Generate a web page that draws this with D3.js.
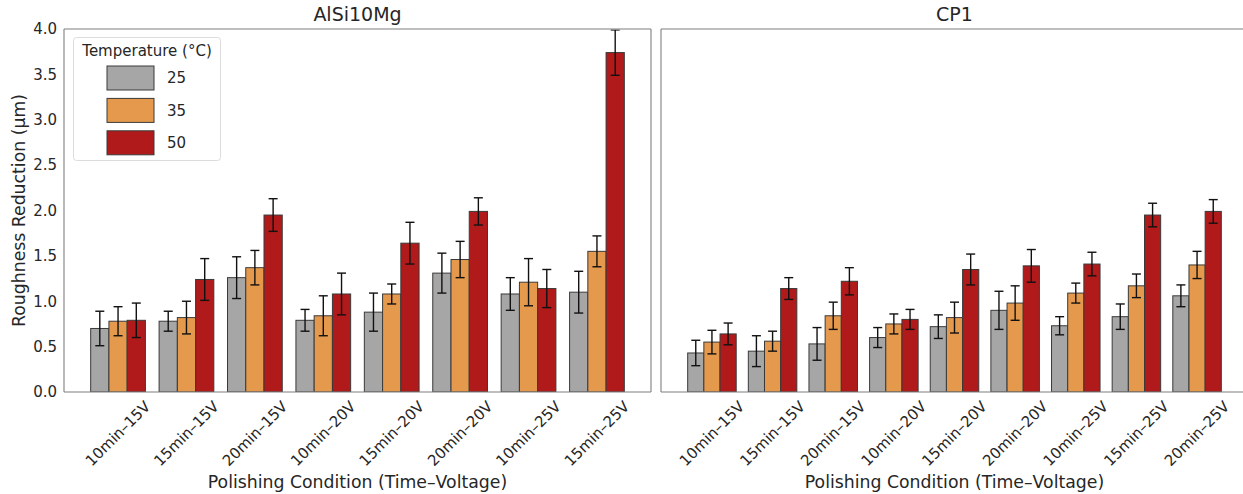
<!DOCTYPE html>
<html>
<head>
<meta charset="utf-8">
<script src="https://cdn.jsdelivr.net/npm/d3@7"></script>
<style>
  body { margin: 0; background: #fff; }
  svg { font-family: "DejaVu Sans", sans-serif; }
</style>
</head>
<body>
<svg id="chart" width="1243" height="494"></svg>
<script>
"use strict";

/************
*** DATA ***
************/

var temps = ["25", "35", "50"];
var tempColors = ["#a6a6a6", "#e5994c", "#b01a1b"];

var condAl = ["10min–15V", "15min–15V", "20min–15V", "10min–20V", "15min–20V", "20min–20V", "10min–25V", "15min–25V"];
var condCp = ["10min–15V", "15min–15V", "20min–15V", "10min–20V", "15min–20V", "20min–20V", "10min–25V", "15min–25V", "20min–25V"];

// AlSi10Mg means / std, one row per temperature
var al25 = [0.70, 0.78, 1.26, 0.79, 0.88, 1.31, 1.08, 1.10];
var al35 = [0.78, 0.82, 1.37, 0.84, 1.08, 1.46, 1.21, 1.55];
var al50 = [0.79, 1.24, 1.95, 1.08, 1.64, 1.99, 1.14, 3.74];
var alErr25 = [0.19, 0.11, 0.23, 0.12, 0.21, 0.22, 0.18, 0.23];
var alErr35 = [0.16, 0.18, 0.19, 0.22, 0.11, 0.20, 0.26, 0.17];
var alErr50 = [0.19, 0.23, 0.18, 0.23, 0.23, 0.15, 0.21, 0.25];

// CP1 means / std
var cp25 = [0.43, 0.45, 0.53, 0.60, 0.72, 0.90, 0.73, 0.83, 1.06];
var cp35 = [0.55, 0.56, 0.84, 0.75, 0.82, 0.98, 1.09, 1.17, 1.40];
var cp50 = [0.64, 1.14, 1.22, 0.80, 1.35, 1.39, 1.41, 1.95, 1.99];
var cpErr25 = [0.14, 0.17, 0.18, 0.11, 0.13, 0.21, 0.10, 0.14, 0.12];
var cpErr35 = [0.13, 0.11, 0.15, 0.11, 0.17, 0.19, 0.11, 0.13, 0.15];
var cpErr50 = [0.12, 0.12, 0.15, 0.11, 0.17, 0.18, 0.13, 0.13, 0.13];

var yTicks = [0.0, 0.5, 1.0, 1.5, 2.0, 2.5, 3.0, 3.5, 4.0];


/**************
*** LAYOUT ***
**************/

var svg = d3.select("#chart");
var textColor = "#262626";
var plotTop = 29, plotBottom = 392;
var panelW = 587;

var y = d3.scaleLinear().domain([0, 4]).range([plotBottom, plotTop]);

var panels = [
  { title: "AlSi10Mg", left: 64, cats: condAl, vals: [al25, al35, al50], errs: [alErr25, alErr35, alErr50] },
  { title: "CP1", left: 661, cats: condCp, vals: [cp25, cp35, cp50], errs: [cpErr25, cpErr35, cpErr50] }
];


/************************
*** DRAW EACH PANEL ***
************************/

var drawPanel = function(p, idx) {

    var n = p.cats.length;
    var barW = 0.8 / 3;
    // matplotlib-like 5% margins around the data span (-0.4 .. n-0.6)
    var span = (n - 1) + 0.8;
    var pad = span * 0.05;
    var x = d3.scaleLinear()
      .domain([-0.4 - pad, n - 0.6 + pad])
      .range([p.left, p.left + panelW]);

    var g = svg.append("g").attr("class", "panel");

    // clip for bars, right panel runs off the image anyway
    var clipId = "clip" + idx;
    g.append("clipPath").attr("id", clipId)
      .append("rect")
      .attr("x", p.left).attr("y", plotTop - 2)
      .attr("width", panelW).attr("height", plotBottom - plotTop + 2);

    var marks = g.append("g").attr("clip-path", "url(#" + clipId + ")");

    // bars
    temps.forEach(function(t, k) {
        var rows = p.vals[k].map(function(v, i) {
            return { i: i, v: v, e: p.errs[k][i] };
        });

        marks.selectAll("rect.bar" + k)
          .data(rows)
          .enter()
          .append("rect")
          .attr("class", "bar" + k)
          .attr("x", function(d) { return x(d.i + (k - 1) * barW - barW / 2); })
          .attr("width", function(d) { return x(barW) - x(0); })
          .attr("y", function(d) { return y(d.v); })
          .attr("height", function(d) { return y(0) - y(d.v); })
          .attr("fill", tempColors[k])
          .attr("stroke", "#3a3a3a")
          .attr("stroke-width", 1);
    });

    // error bars on top
    temps.forEach(function(t, k) {
        var rows = p.vals[k].map(function(v, i) {
            return { cx: x(i + (k - 1) * barW), v: v, e: p.errs[k][i] };
        });

        var eb = marks.selectAll("g.err" + k)
          .data(rows)
          .enter()
          .append("g")
          .attr("class", "err" + k)
          .attr("stroke", "#111")
          .attr("stroke-width", 1.4);

        eb.append("line")
          .attr("x1", function(d) { return d.cx; })
          .attr("x2", function(d) { return d.cx; })
          .attr("y1", function(d) { return y(d.v - d.e); })
          .attr("y2", function(d) { return y(d.v + d.e); });

        [-1, 1].forEach(function(s) {
            eb.append("line")
              .attr("x1", function(d) { return d.cx - 4.5; })
              .attr("x2", function(d) { return d.cx + 4.5; })
              .attr("y1", function(d) { return y(d.v + s * d.e); })
              .attr("y2", function(d) { return y(d.v + s * d.e); });
        });
    });

    // spines
    var sp = g.append("g").attr("stroke", "#7f7f7f").attr("stroke-width", 1.1).attr("fill", "none");
    sp.append("line").attr("x1", p.left).attr("x2", p.left + panelW).attr("y1", plotTop).attr("y2", plotTop).attr("stroke", "#a8a8a8").attr("stroke-width", 1.4);
    sp.append("line").attr("x1", p.left).attr("x2", p.left + panelW).attr("y1", plotBottom).attr("y2", plotBottom);
    sp.append("line").attr("x1", p.left).attr("x2", p.left).attr("y1", plotTop).attr("y2", plotBottom);
    sp.append("line").attr("x1", p.left + panelW).attr("x2", p.left + panelW).attr("y1", plotTop).attr("y2", plotBottom);

    // title
    g.append("text")
      .attr("x", p.left + panelW / 2)
      .attr("y", 21)
      .attr("text-anchor", "middle")
      .attr("font-size", "19px")
      .attr("fill", textColor)
      .text(p.title);

    // x tick labels, rotated 45 and centred on tick (matplotlib ha=center)
    p.cats.forEach(function(c, i) {
        var t = g.append("text")
          .attr("font-size", "15px")
          .attr("fill", textColor)
          .attr("text-anchor", "middle")
          .attr("dominant-baseline", "central")
          .text(c);
        var w = t.node().getComputedTextLength();
        var h = 15 * 1.1;
        var half = (w + h) / (2 * Math.SQRT2);
        t.attr("transform", "translate(" + x(i) + "," + (plotBottom + 6 + half) + ") rotate(-45)");
    });

    // x axis label
    g.append("text")
      .attr("x", p.left + panelW / 2)
      .attr("y", 488)
      .attr("text-anchor", "middle")
      .attr("font-size", "17.3px")
      .attr("fill", textColor)
      .text("Polishing Condition (Time–Voltage)");

    // y ticks only on first panel (shared y)
    if (idx == 0) {
        g.selectAll("text.ytick")
          .data(yTicks)
          .enter()
          .append("text")
          .attr("class", "ytick")
          .attr("x", p.left - 7)
          .attr("y", function(d) { return y(d); })
          .attr("dy", "0.35em")
          .attr("text-anchor", "end")
          .attr("font-size", "15px")
          .attr("fill", textColor)
          .text(function(d) { return d3.format(".1f")(d); });

        g.append("text")
          .attr("transform", "translate(25," + ((plotTop + plotBottom) / 2) + ") rotate(-90)")
          .attr("text-anchor", "middle")
          .attr("font-size", "17.3px")
          .attr("fill", textColor)
          .text("Roughness Reduction (μm)");
    }
};

panels.forEach(drawPanel);


/**************
*** LEGEND ***
**************/

var leg = svg.append("g").attr("class", "legend");

leg.append("rect")
  .attr("x", 73.5).attr("y", 37.5)
  .attr("width", 147).attr("height", 123)
  .attr("rx", 3)
  .attr("fill", "#fff").attr("fill-opacity", 0.8)
  .attr("stroke", "#dcdcdc");

leg.append("text")
  .attr("x", 147)
  .attr("y", 55.5)
  .attr("text-anchor", "middle")
  .attr("font-size", "15px")
  .attr("fill", textColor)
  .text("Temperature (°C)");

var items = leg.selectAll("g.item")
  .data(temps)
  .enter()
  .append("g")
  .attr("class", "item")
  .attr("transform", function(d, i) { return "translate(0," + (66 + i * 32.4) + ")"; });

items.append("rect")
  .attr("x", 107).attr("y", 0)
  .attr("width", 47).attr("height", 24)
  .attr("fill", function(d, i) { return tempColors[i]; })
  .attr("stroke", "#3a3a3a");

items.append("text")
  .attr("x", 167).attr("y", 12)
  .attr("dy", "0.35em")
  .attr("font-size", "15px")
  .attr("fill", textColor)
  .text(function(d) { return d; });

</script>
</body>
</html>
